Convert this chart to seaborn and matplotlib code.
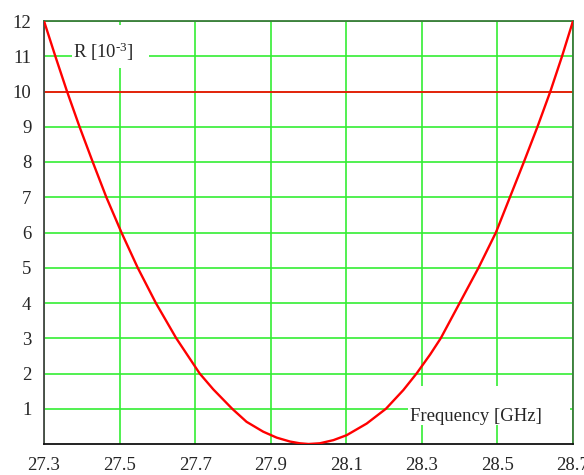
import matplotlib
matplotlib.use("Agg")
import matplotlib.pyplot as plt
from matplotlib.patches import Rectangle
import seaborn as sns
import pandas as pd

freq = [27.300, 27.330, 27.361, 27.394, 27.429, 27.465, 27.505, 27.548, 27.596,
        27.650, 27.712, 27.748, 27.798, 27.836, 27.880, 27.916, 27.951,
        27.977, 28.000, 28.030, 28.066, 28.101, 28.154, 28.205, 28.251, 28.286,
        28.322, 28.350, 28.400, 28.450, 28.496, 28.533, 28.570, 28.606, 28.640,
        28.671, 28.700]
r_vals = [12.0, 11.0, 10.0, 9.0, 8.0, 7.0, 6.0, 5.0, 4.0,
          3.0, 2.0, 1.55, 1.0, 0.63, 0.35, 0.18, 0.07,
          0.02, 0.0, 0.02, 0.11, 0.25, 0.58, 1.0, 1.53, 2.0,
          2.54, 3.0, 4.0, 5.0, 6.0, 7.0, 8.0, 9.0, 10.0,
          11.0, 12.0]
threshold = 10
xticks = [27.3, 27.5, 27.7, 27.9, 28.1, 28.3, 28.5, 28.7]
yticks = [1, 2, 3, 4, 5, 6, 7, 8, 9, 10, 11, 12]

sns.set_style("white")
plt.rcParams['font.family'] = ['Liberation Serif', 'DejaVu Serif']
plt.rcParams['mathtext.fontset'] = 'custom'
plt.rcParams['mathtext.rm'] = 'Liberation Serif'
plt.rcParams['mathtext.it'] = 'Liberation Serif:italic'

df = pd.DataFrame({"freq": freq, "R": r_vals})

fig = plt.figure(figsize=(5.84, 4.75), dpi=100)
ax = fig.add_axes([44/584, 31/475, 529/584, 423/475])

ax.set_xlim(27.3, 28.7)
ax.set_ylim(0, 12)
ax.set_xticks(xticks)
ax.set_yticks(yticks)
ax.set_xticklabels([f"{v:.1f}" for v in xticks])
ax.set_yticklabels([str(v) for v in yticks])
ax.grid(True, color='#33ee33', linewidth=1.2)
ax.set_axisbelow(True)

ax.axhline(threshold, color='#ff0000', linewidth=1.2, zorder=2)
sns.lineplot(data=df, x="freq", y="R", color='#ff0000', linewidth=1.7, ax=ax,
             zorder=3, solid_joinstyle='round')

ax.set_xlabel("")
ax.set_ylabel("")
ax.tick_params(axis='both', length=0, labelsize=13.5)
ax.tick_params(axis='x', pad=9)
ax.tick_params(axis='y', pad=9)

ax.spines['left'].set_color('#444444')
ax.spines['bottom'].set_color('#111111')
for s in ['top', 'right']:
    ax.spines[s].set_color('#3a7a3a')
for s in ax.spines.values():
    s.set_linewidth(1.3)

# white label boxes
ax.add_patch(Rectangle((27.374, 10.67), 0.204, 1.22, facecolor='white',
                       edgecolor='none', zorder=1.5))
ax.add_patch(Rectangle((28.263, 0.55), 0.429, 1.10, facecolor='white',
                       edgecolor='none', zorder=1.5))

ax.text(27.377, 10.95, r"R [10$^{\text{-3}}$]", fontsize=13.5, ha='left',
        va='baseline', zorder=4)
ax.text(28.269, 0.65, "Frequency [GHz]", fontsize=13.5, ha='left',
        va='baseline', zorder=4)

fig.savefig("out.png", dpi=100)
